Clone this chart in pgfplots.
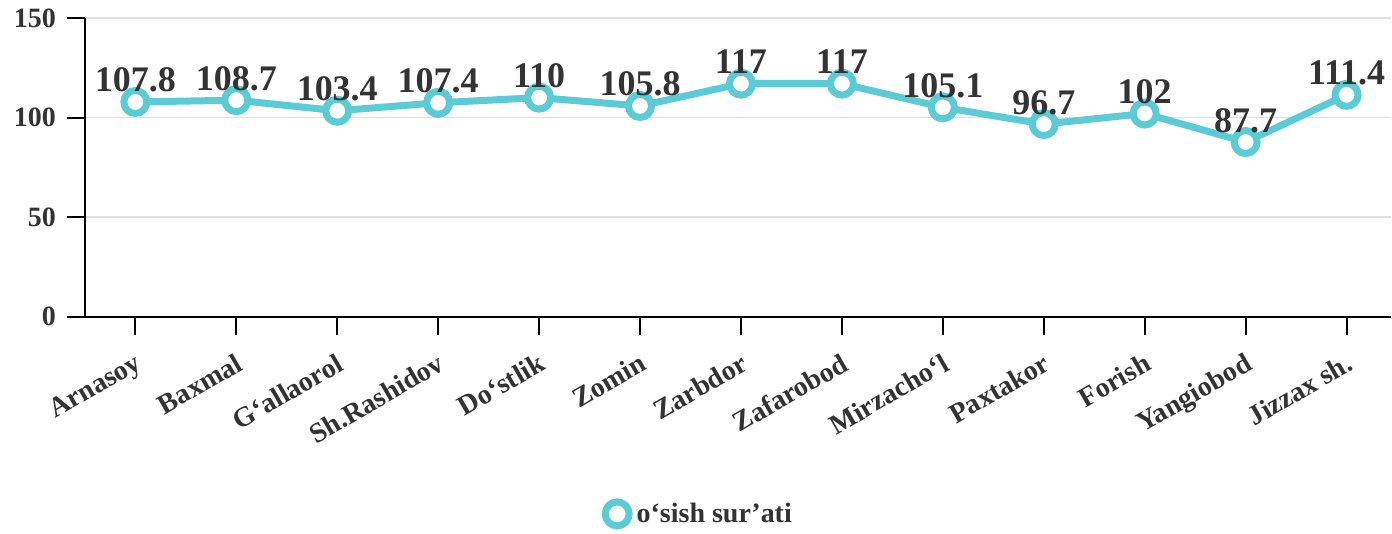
\documentclass[border=0pt]{standalone}
\usepackage{fontspec}
\setmainfont{Liberation Serif}
\usepackage{pgfplots}
\pgfplotsset{compat=1.18}
\definecolor{lncyan}{HTML}{5BCBD5}
\definecolor{txtgray}{HTML}{333333}
\definecolor{gridgray}{HTML}{E0E0E0}

\begin{document}
\begin{tikzpicture}
\begin{axis}[
    scale only axis,
    width=653.5pt,
    height=149.5pt,
    xmin=-0.5, xmax=12.44,
    ymin=0, ymax=150,
    ytick={0,50,100,150},
    xtick={0,...,12},
    xticklabels={Arnasoy,Baxmal,G‘allaorol,Sh.Rashidov,Do‘stlik,Zomin,Zarbdor,Zafarobod,Mirzacho‘l,Paxtakor,Forish,Yangiobod,Jizzax sh.},
    axis x line=bottom,
    axis y line=left,
    axis line style={-, line width=1pt, black},
    tick style={line width=1pt, black},
    tick align=outside,
    major tick length=9pt,
    ymajorgrids=true,
    grid style={gridgray, line width=0.7pt},
    /pgf/number format/assume math mode=true,
    ticklabel style={font=\fontsize{14}{16}\selectfont\bfseries, text=txtgray},
    yticklabel style={xshift=-2pt},
    xticklabel style={rotate=30, anchor=north east, inner sep=1pt, yshift=-6pt, xshift=-4pt},
    nodes near coords,
    nodes near coords style={font=\fontsize{18}{20}\selectfont\bfseries, text=txtgray, anchor=base, yshift=5pt},
    clip=false,
    legend style={at={(axis description cs:0.47,-0.66)}, anchor=center, draw=none,
        font=\fontsize{14}{16}\selectfont\bfseries, text=txtgray},
    legend image code/.code={\draw[line width=3.5pt, draw=lncyan, fill=white] (0.1cm,0) circle (6pt);},
]
\addplot[line width=3.5pt, color=lncyan, mark=*, mark size=5.75pt,
    mark options={fill=white, draw=lncyan, line width=3.5pt}]
    coordinates {(0,107.8) (1,108.7) (2,103.4) (3,107.4) (4,110) (5,105.8) (6,117)
                 (7,117) (8,105.1) (9,96.7) (10,102) (11,87.7) (12,111.4)};
\addlegendentry{o‘sish sur’ati}
\path (axis description cs:-0.065,1.06) rectangle (axis description cs:1,-0.709);
\end{axis}
\end{tikzpicture}
\end{document}
